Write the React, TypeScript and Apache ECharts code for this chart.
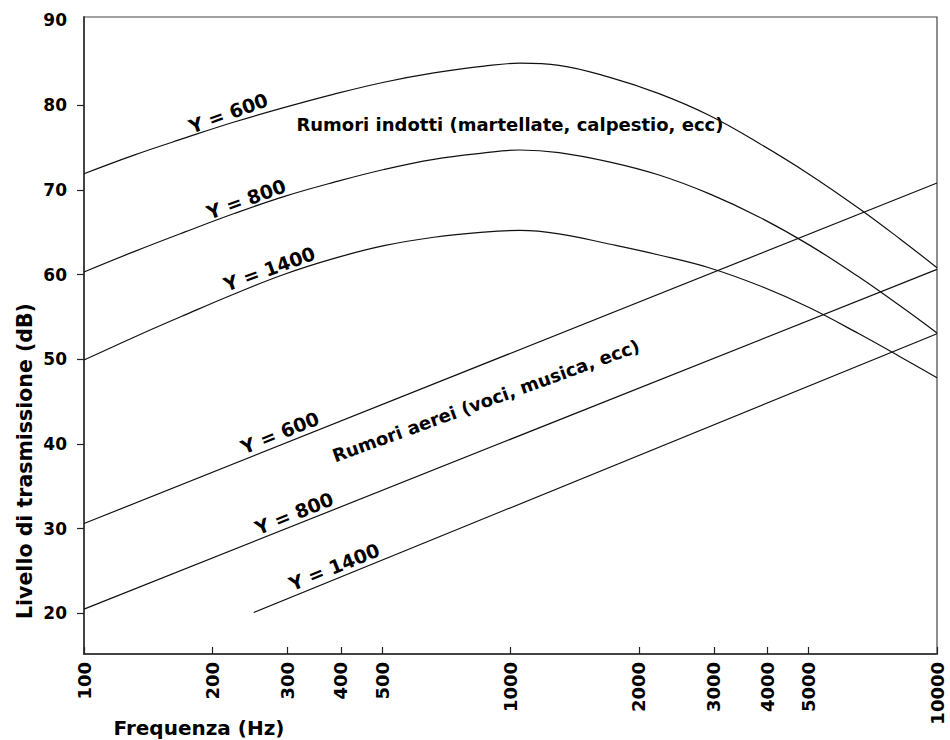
import React, { useEffect, useRef } from "react";
import * as echarts from "echarts";

// Frequencies (Hz) sampled along the upper curves (Rumori indotti)
const upperFreq = [100, 131, 172, 225, 294, 386, 505, 661, 867, 1052, 1299, 1702, 2229, 2920, 3825, 5012, 6564, 8190, 10000];
const upperY600 = [71.9, 74.1, 76.1, 78.0, 79.7, 81.3, 82.7, 83.8, 84.6, 84.95, 84.7, 83.3, 81.35, 78.8, 75.5, 71.85, 67.8, 64.2, 60.8];
const upperY800 = [60.3, 62.7, 65.0, 67.2, 69.2, 70.9, 72.4, 73.6, 74.35, 74.7, 74.4, 73.3, 71.75, 69.55, 66.8, 63.5, 59.7, 56.3, 53.1];
const upperY1400 = [49.9, 52.6, 55.2, 57.7, 60.0, 61.9, 63.4, 64.4, 65.0, 65.2, 64.8, 63.6, 62.3, 60.8, 58.7, 56.1, 53.0, 50.3, 47.8];

// Lower straight lines (Rumori aerei)
const lowerY600Freq = [100, 10000];
const lowerY600 = [30.6, 70.8];
const lowerY800Freq = [100, 10000];
const lowerY800 = [20.5, 60.6];
const lowerY1400Freq = [250, 10000];
const lowerY1400 = [20.1, 53.0];

// Axis ticks
const xTickValues = [100, 200, 300, 400, 500, 1000, 2000, 3000, 4000, 5000, 10000];
const yTickValues = [20, 30, 40, 50, 60, 70, 80];
const yLabelValues = [20, 30, 40, 50, 60, 70, 80, 90];

// Annotations (anchored in data space)
const labelTexts = [
  "Y = 600",
  "Y = 800",
  "Y = 1400",
  "Rumori indotti (martellate, calpestio, ecc)",
  "Y = 600",
  "Y = 800",
  "Y = 1400",
  "Rumori aerei (voci, musica, ecc)",
];
const labelFreq = [218, 240, 272, 997, 288, 311, 386, 876];
const labelDb = [79.06, 68.9, 60.67, 77.76, 41.33, 31.8, 25.5, 45.1];
const labelAngle = [20, 20, 20, 0, 22, 22, 22, 20];
const labelSize = [19, 19, 19, 18, 19, 19, 19, 18];

const FONT = "'DejaVu Sans', Verdana, sans-serif";
const lg = (v: number) => Math.log10(v);
const pairs = (f: number[], v: number[]) => f.map((x, i) => [lg(x), v[i]]);

export default function App() {
  const ref = useRef<HTMLDivElement>(null);

  useEffect(() => {
    if (!ref.current) return;
    const chart = echarts.init(ref.current, undefined, { renderer: "svg" });

    const lineBase = {
      type: "line" as const,
      showSymbol: false,
      symbol: "none",
      silent: true,
      lineStyle: { color: "#111", width: 1.2 },
    };

    chart.setOption({
      animation: false,
      backgroundColor: "#fff",
      grid: {
        left: 84,
        right: 13,
        top: 17,
        bottom: 86,
        show: true,
        borderColor: "#444",
        borderWidth: 1.2,
      },
      xAxis: {
        type: "value",
        min: 2,
        max: 4,
        axisLine: { show: true, lineStyle: { color: "#444", width: 2 } },
        axisTick: {
          show: true,
          inside: true,
          length: 7,
          customValues: xTickValues.map(lg),
          lineStyle: { color: "#222", width: 1.2 },
        },
        axisLabel: {
          customValues: xTickValues.map(lg),
          formatter: (v: number) => String(Math.round(Math.pow(10, v))),
          rotate: 90,
          margin: 8,
          color: "#000",
          fontFamily: FONT,
          fontWeight: "bold",
          fontSize: 18,
        },
        splitLine: { show: false },
      },
      yAxis: {
        type: "value",
        min: 15.2,
        max: 90.4,
        axisLine: { show: true, lineStyle: { color: "#444", width: 2 } },
        axisTick: {
          show: true,
          length: 7,
          customValues: yTickValues,
          lineStyle: { color: "#222", width: 1.2 },
        },
        axisLabel: {
          customValues: yLabelValues,
          margin: 17,
          color: "#000",
          fontFamily: FONT,
          fontWeight: "bold",
          fontSize: 17,
        },
        splitLine: { show: false },
      },
      series: [
        { ...lineBase, name: "Indotti Y=600", smooth: 0.4, data: pairs(upperFreq, upperY600) },
        { ...lineBase, name: "Indotti Y=800", smooth: 0.4, data: pairs(upperFreq, upperY800) },
        { ...lineBase, name: "Indotti Y=1400", smooth: 0.4, data: pairs(upperFreq, upperY1400) },
        { ...lineBase, name: "Aerei Y=600", data: pairs(lowerY600Freq, lowerY600) },
        { ...lineBase, name: "Aerei Y=800", data: pairs(lowerY800Freq, lowerY800) },
        { ...lineBase, name: "Aerei Y=1400", data: pairs(lowerY1400Freq, lowerY1400) },
      ],
    });

    const annotations = labelTexts.map((t, i) => {
      const p = chart.convertToPixel({ gridIndex: 0 }, [lg(labelFreq[i]), labelDb[i]]) as number[];
      return {
        type: "text",
        x: p[0],
        y: p[1],
        rotation: (labelAngle[i] * Math.PI) / 180,
        silent: true,
        style: {
          text: t,
          fill: "#000",
          font: `bold ${labelSize[i]}px ${FONT}`,
          textAlign: "center",
          textVerticalAlign: "middle",
        },
      };
    });

    chart.setOption({
      graphic: [
        ...annotations,
        {
          type: "text",
          x: 199,
          y: 728,
          silent: true,
          style: {
            text: "Frequenza (Hz)",
            fill: "#000",
            font: `bold 20px ${FONT}`,
            textAlign: "center",
            textVerticalAlign: "middle",
          },
        },
        {
          type: "text",
          x: 25,
          y: 461,
          rotation: Math.PI / 2,
          silent: true,
          style: {
            text: "Livello di trasmissione (dB)",
            fill: "#000",
            font: `bold 20.5px ${FONT}`,
            textAlign: "center",
            textVerticalAlign: "middle",
          },
        },
      ],
    });

    return () => chart.dispose();
  }, []);

  return (
    <div
      ref={ref}
      style={{ position: "absolute", left: 0, top: 0, width: 950, height: 740, background: "#fff" }}
    />
  );
}
